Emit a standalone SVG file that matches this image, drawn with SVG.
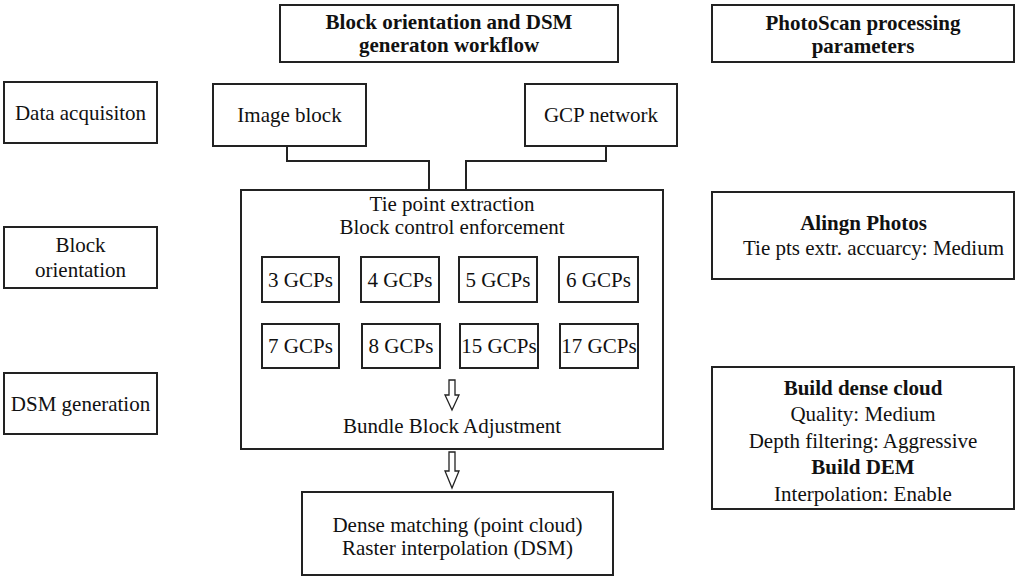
<svg xmlns="http://www.w3.org/2000/svg" width="1016" height="585" viewBox="0 0 1016 585">
<style>
.box{fill:#fff;stroke:#222;stroke-width:2}
.t{font-family:"Liberation Serif","Times New Roman",serif;font-size:21px;fill:#111;text-anchor:middle}
.b{font-weight:bold}
.con{fill:none;stroke:#222;stroke-width:2}
.arr{fill:#fff;stroke:#222;stroke-width:1.3}
</style>
<rect width="1016" height="585" fill="#fff"/>
<g id="title-workflow"><rect class="box" x="280" y="5" width="338" height="57"/><text class="t b" x="449" y="29">Block orientation and DSM</text><text class="t b" x="449" y="52">generaton workflow</text></g>
<g id="title-params"><rect class="box" x="712" y="5" width="302" height="57"/><text class="t b" x="863" y="30">PhotoScan processing</text><text class="t b" x="863" y="53">parameters</text></g>
<g id="stage-data"><rect class="box" x="4" y="82" width="153" height="61"/><text class="t" x="80.5" y="120">Data acquisiton</text></g>
<g id="stage-block"><rect class="box" x="4" y="227" width="153" height="61"/><text class="t" x="80.5" y="252">Block</text><text class="t" x="80.5" y="277">orientation</text></g>
<g id="stage-dsm"><rect class="box" x="4" y="373" width="153" height="61"/><text class="t" x="80.5" y="411">DSM generation</text></g>
<g id="image-block"><rect class="box" x="213" y="84" width="153" height="62"/><text class="t" x="289.5" y="122">Image block</text></g>
<g id="gcp-network"><rect class="box" x="525" y="84" width="152" height="62"/><text class="t" x="601" y="122">GCP network</text></g>
<g id="main"><rect class="box" x="241" y="190" width="422" height="259"/><text class="t" x="452" y="211">Tie point extraction</text><text class="t" x="452" y="234">Block control enforcement</text><text class="t" x="452" y="433">Bundle Block Adjustment</text></g>
<g id="gcp3"><rect class="box" x="262" y="257" width="77" height="45"/><text class="t" x="300.5" y="287">3 GCPs</text></g>
<g id="gcp4"><rect class="box" x="361" y="257" width="78" height="45"/><text class="t" x="400" y="287">4 GCPs</text></g>
<g id="gcp5"><rect class="box" x="459" y="257" width="78" height="45"/><text class="t" x="498" y="287">5 GCPs</text></g>
<g id="gcp6"><rect class="box" x="559" y="257" width="79" height="45"/><text class="t" x="598.5" y="287">6 GCPs</text></g>
<g id="gcp7"><rect class="box" x="262" y="324" width="77" height="44"/><text class="t" x="300.5" y="353">7 GCPs</text></g>
<g id="gcp8"><rect class="box" x="362" y="324" width="78" height="44"/><text class="t" x="401" y="353">8 GCPs</text></g>
<g id="gcp15"><rect class="box" x="460" y="324" width="78" height="44"/><text class="t" x="499" y="353">15 GCPs</text></g>
<g id="gcp17"><rect class="box" x="560" y="324" width="78" height="44"/><text class="t" x="599" y="353">17 GCPs</text></g>
<g id="dense"><rect class="box" x="302" y="492" width="311" height="83"/><text class="t" x="457.5" y="532">Dense matching (point cloud)</text><text class="t" x="457.5" y="555">Raster interpolation (DSM)</text></g>
<g id="align-photos"><rect class="box" x="712" y="192" width="302" height="87"/><text class="t b" x="863.5" y="230">Alingn Photos</text><text class="t" x="873.5" y="255">Tie pts extr. accuarcy: Medium</text></g>
<g id="build"><rect class="box" x="712" y="367" width="302" height="142"/><text class="t b" x="863" y="395">Build dense cloud</text><text class="t" x="863" y="421">Quality: Medium</text><text class="t" x="863" y="448">Depth filtering: Aggressive</text><text class="t b" x="863" y="474">Build DEM</text><text class="t" x="863" y="501">Interpolation: Enable</text></g>
<g id="connectors">
<polyline class="con" points="287,146 287,161 429,161 429,190"/>
<polyline class="con" points="606,146 606,161 466,161 466,190"/>
<path class="arr" d="M449,380 H455 V395 H459 L452,410 L445,395 H449 Z"/>
<path class="arr" d="M449,452 H455 V471 H459 L452,488 L445,471 H449 Z"/>
</g>
</svg>
